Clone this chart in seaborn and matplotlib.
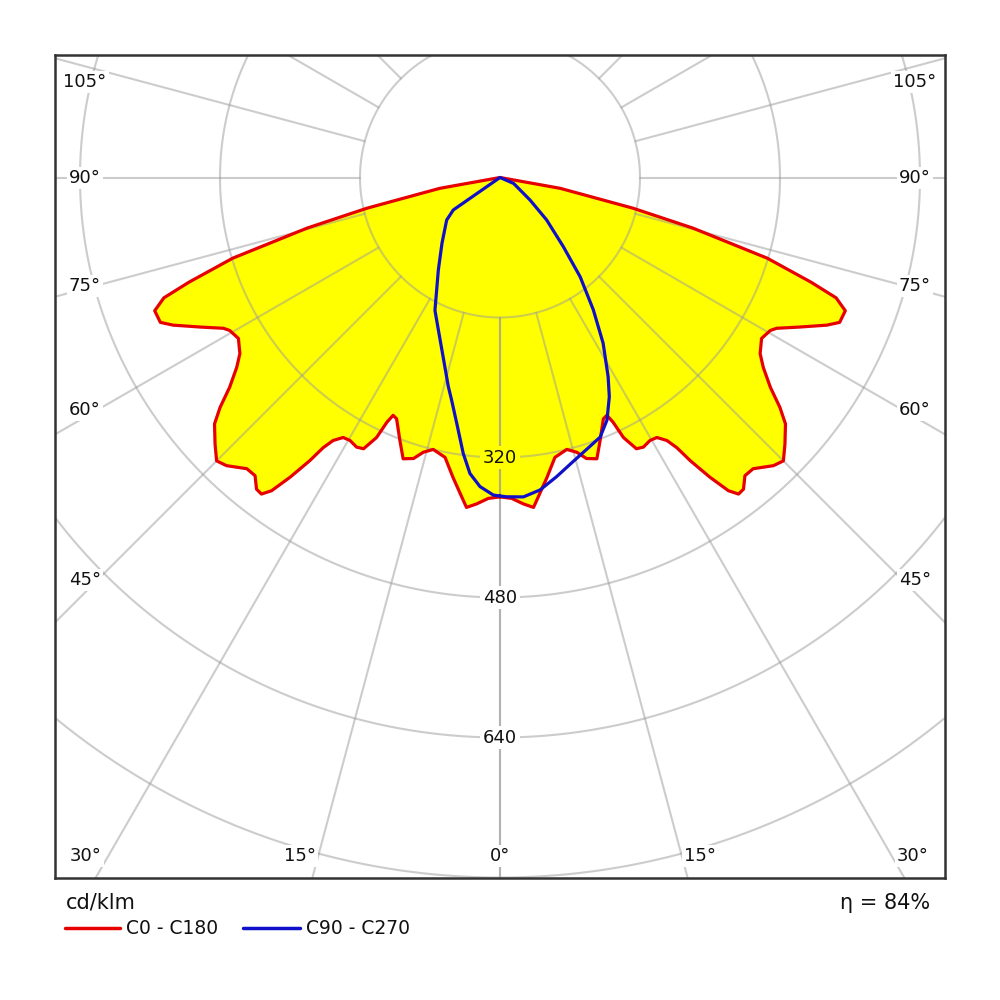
import numpy as np
import pandas as pd
import matplotlib
matplotlib.use("Agg")
import matplotlib.pyplot as plt
from matplotlib.lines import Line2D
from matplotlib.path import Path
import seaborn as sns

# ---------------- data (cd/klm) ----------------
# C0 - C180 plane (symmetric): gamma in degrees from nadir, intensity in cd/klm
c0_gamma = [0, 2.1, 4.1, 5.8, 6.8, 8.9, 11.1, 13.8, 15.6, 17.1, 19.0, 20.8, 23.2,
            24.2, 24.8, 25.4, 26.7, 28.0, 29.7, 31.1, 32.4, 33.2, 33.9, 35.0, 36.1,
            37.0, 38.0, 39.4, 41.0, 43.5, 45.0, 46.9, 49.2, 50.6, 52.2, 54.2, 55.9,
            58.4, 60.5, 61.4, 63.5, 65.7, 66.9, 68.9, 70.3, 71.4, 73.2, 75.3, 77.0,
            79.8, 90]
c0_intensity = [365, 367, 374, 379, 368, 347, 326, 320, 326, 336, 340, 322, 300,
                298, 308, 329, 347, 349, 346, 347, 356, 369, 390, 418, 443,
                453, 452, 441, 441, 454, 458, 446, 431, 414, 391, 371, 359,
                351, 355, 360, 383, 410, 422, 423, 408, 375, 319, 228, 156,
                70, 0]

# C90 half (drawn to the right) and C270 half (drawn to the left)
c90_gamma = [0, 1.2, 4.2, 7.3, 10.7, 14.5, 18.5, 21.1, 23.8, 26.5, 28.5, 31.9,
             35.2, 38.9, 42.5, 47.7, 53.1, 66.4, 90]
c90_intensity = [364, 365, 366, 360, 348, 335, 324, 318, 303, 280, 259, 223,
                 185, 146, 107, 72, 43, 17, 0]
c270_gamma = [0, 1.2, 3.7, 5.8, 7.6, 10.0, 12.3, 13.9, 17.6, 22.0, 26.1, 33.7,
              41.5, 51.4, 55.2, 90]
c270_intensity = [364, 363, 354, 340, 318, 285, 260, 246, 215, 188, 169, 127,
                  100, 78, 65, 0]

ring_values = [160, 320, 480, 640, 800]
labelled_rings = [320, 480, 640]
radial_step = 15
unit_label = "cd/klm"
efficiency_label = "η = 84%"
legend_labels = ["C0 - C180", "C90 - C270"]
side_angle_labels = ["105°", "90°", "75°", "60°", "45°"]
bottom_angle_labels = ["30°", "15°", "0°", "15°", "30°"]

# ---------------- layout ----------------
S = 0.875                 # pixels per cd/klm
CX, CY = 500.0, 177.5     # pole position in pixels
BOX = (55, 55, 945, 878)  # left, top, right, bottom in pixels

def px(xp, yp):
    return (xp - CX) / S, (CY - yp) / S

RED = "#e60000"
BLUE = "#1010c8"
YELLOW = "#ffff00"
GRID = "#9a9a9a"
TXT = "#111111"

sns.set_style("white")
plt.rcParams["font.family"] = ["DejaVu Sans"]
plt.rcParams["text.color"] = TXT

fig = plt.figure(figsize=(10, 10), dpi=100)
ax = fig.add_axes([BOX[0] / 1000, 1 - BOX[3] / 1000,
                   (BOX[2] - BOX[0]) / 1000, (BOX[3] - BOX[1]) / 1000])
x0, y1 = px(BOX[0], BOX[1])
x1, y0 = px(BOX[2], BOX[3])
ax.set_xlim(x0, x1)
ax.set_ylim(y0, y1)
ax.set_aspect("equal")
ax.set_xticks([])
ax.set_yticks([])
for sp in ax.spines.values():
    sp.set_color("#333333")
    sp.set_linewidth(1.8)

# ---------------- curves ----------------
g0 = np.radians(c0_gamma)
I0 = np.array(c0_intensity, float)
red_x = np.concatenate([I0 * np.sin(g0), (-I0 * np.sin(g0))[::-1]])
red_y = np.concatenate([-I0 * np.cos(g0), (-I0 * np.cos(g0))[::-1]])
red_df = pd.DataFrame({"x": red_x, "y": red_y})

g90 = np.radians(c90_gamma)
g270 = np.radians(c270_gamma)
I90 = np.array(c90_intensity, float)
I270 = np.array(c270_intensity, float)
blue_x = np.concatenate([I90 * np.sin(g90), (-I270 * np.sin(g270))[::-1]])
blue_y = np.concatenate([-I90 * np.cos(g90), (-I270 * np.cos(g270))[::-1]])
blue_df = pd.DataFrame({"x": blue_x, "y": blue_y})

ax.fill(red_df["x"], red_df["y"], color=YELLOW, zorder=1, lw=0)

# ---------------- grid ----------------
th = np.linspace(0, 2 * np.pi, 1441)
for v in ring_values:
    ax.plot(v * np.sin(th), v * np.cos(th), color=GRID, alpha=0.5, lw=1.5, zorder=2)
rmin = ring_values[0]
for g in range(0, 181, radial_step):
    gr = np.radians(g)
    for sgn in (1, -1):
        ax.plot([sgn * rmin * np.sin(gr), sgn * 3000 * np.sin(gr)],
                [-rmin * np.cos(gr), -3000 * np.cos(gr)],
                color=GRID, alpha=0.5, lw=1.5, zorder=2)

sns.lineplot(data=red_df, x="x", y="y", sort=False, estimator=None,
             color=RED, lw=2.3, ax=ax, zorder=3)
sns.lineplot(data=blue_df, x="x", y="y", sort=False, estimator=None,
             color=BLUE, lw=2.3, ax=ax, zorder=4)
ax.set_xlabel("")
ax.set_ylabel("")

# ---------------- labels ----------------
red_path = Path(np.column_stack([red_x, red_y]))
for v in labelled_rings:
    bg = YELLOW if red_path.contains_point((0, -v)) else "white"
    ax.text(0, -v, str(v), ha="center", va="center", fontsize=13, zorder=5,
            color=TXT, bbox=dict(boxstyle="square,pad=0.15", fc=bg, ec="none"))

side_y_px = [82, 178, 286, 410, 580]
for lab, yp in zip(side_angle_labels, side_y_px):
    for xp in (85, 915):
        ax.text(*px(xp, yp), lab, ha="center", va="center", fontsize=13, zorder=5,
                color=TXT, bbox=dict(boxstyle="square,pad=0.12", fc="white", ec="none"))
bottom_x_px = [86, 300, 500, 700, 913]
for lab, xp in zip(bottom_angle_labels, bottom_x_px):
    ax.text(*px(xp, 856), lab, ha="center", va="center", fontsize=13, zorder=5,
            color=TXT, bbox=dict(boxstyle="square,pad=0.12", fc="white", ec="none"))

fig.text(0.066, 1 - 903 / 1000, unit_label, ha="left", va="center", fontsize=15, color=TXT)
fig.text(0.930, 1 - 903 / 1000, efficiency_label, ha="right", va="center", fontsize=15, color=TXT)

for (xa, xb, xt), col, lab in zip([(0.065, 0.120, 0.126), (0.243, 0.300, 0.306)],
                                  [RED, BLUE], legend_labels):
    fig.add_artist(Line2D([xa, xb], [0.072, 0.072], color=col, lw=2.5,
                          transform=fig.transFigure))
    fig.text(xt, 0.072, lab, ha="left", va="center", fontsize=13.5, color=TXT)

fig.savefig("out.png", dpi=100, facecolor="white")
